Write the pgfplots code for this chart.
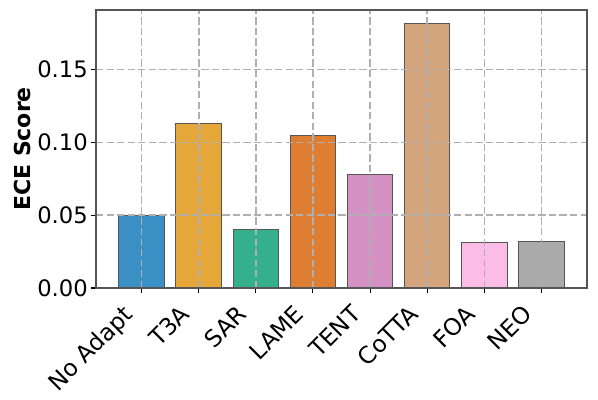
\documentclass[border=0pt]{standalone}
\usepackage{pgfplots}
\pgfplotsset{compat=1.18}
\usepackage{fontspec}
\setmainfont{DejaVu Sans}

\definecolor{cNo}{HTML}{3A8FC4}
\definecolor{cT3A}{HTML}{E5A63A}
\definecolor{cSAR}{HTML}{35B08D}
\definecolor{cLAME}{HTML}{DE7E33}
\definecolor{cTENT}{HTML}{D492C4}
\definecolor{cCoTTA}{HTML}{D4A57D}
\definecolor{cFOA}{HTML}{FBBDE6}
\definecolor{cNEO}{HTML}{AAAAAA}
\definecolor{gridgray}{HTML}{B0B0B0}
\definecolor{edgegray}{HTML}{555555}

\begin{document}
\begin{tikzpicture}
\begin{axis}[
    name=ax,
    scale only axis,
    width=368.25pt, height=208.5pt,
    xmin=-0.8, xmax=7.8,
    ymin=0, ymax=0.191,
    xtick={0,1,2,3,4,5,6,7},
    xticklabels={No Adapt, T3A, SAR, LAME, TENT, CoTTA, FOA, NEO},
    xticklabel style={xshift=-15pt, yshift=-6pt, rotate=45, anchor=north east, inner sep=1pt, font=\fontsize{17.5}{20}\selectfont},
    ytick={0,0.05,0.10,0.15},
    yticklabel style={font=\fontsize{17}{20}\selectfont, inner sep=2pt},
    /pgf/number format/assume math mode=true,
    /pgf/number format/fixed,
    /pgf/number format/fixed zerofill,
    /pgf/number format/precision=2,
    scaled y ticks=false,
    ylabel={\textbf{ECE Score}},
    ylabel style={font=\fontsize{16.5}{19}\selectfont, yshift=-1pt},
    grid=major,
    major grid style={gridgray, line width=1.1pt, dash pattern=on 5.5pt off 2.4pt},
    axis on top,
    axis line style={edgegray, line width=0.8pt},
    tick style={black, line width=0.8pt},
    tick align=outside,
    major tick length=4pt,
    xtick pos=bottom, ytick pos=left,
    ybar, bar width=0.8, bar shift=0pt,
    every axis plot/.append style={draw=edgegray, line width=0.75pt},
]
\addplot[fill=cNo] coordinates {(0,0.0500)};
\addplot[fill=cT3A] coordinates {(1,0.1128)};
\addplot[fill=cSAR] coordinates {(2,0.0403)};
\addplot[fill=cLAME] coordinates {(3,0.1046)};
\addplot[fill=cTENT] coordinates {(4,0.0778)};
\addplot[fill=cCoTTA] coordinates {(5,0.1819)};
\addplot[fill=cFOA] coordinates {(6,0.0310)};
\addplot[fill=cNEO] coordinates {(7,0.0319)};
\end{axis}
\path ([shift={(-72pt,-83.25pt)}]ax.south west) rectangle ([shift={(8.25pt,7.5pt)}]ax.north east);
\end{tikzpicture}
\end{document}
